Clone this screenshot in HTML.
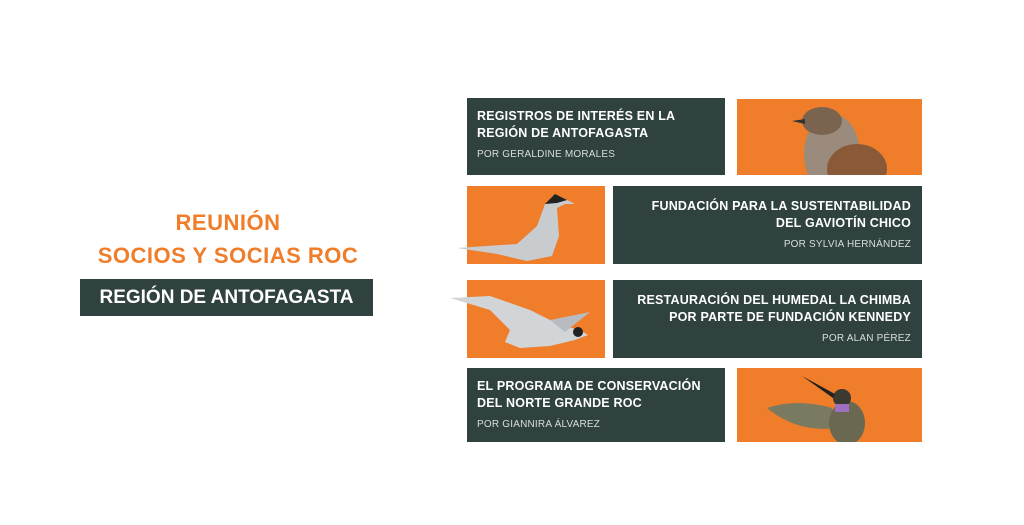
<!DOCTYPE html>
<html><head><meta charset="utf-8"><style>
body{margin:0;width:1024px;height:525px;background:#fff;position:relative;overflow:hidden;font-family:"Liberation Sans",sans-serif}
.b{position:absolute}
.d{background:#2f4240;color:#fff}
.o{background:#ef7d2a}
.t{font-weight:bold;font-size:12.5px;line-height:17px;letter-spacing:.2px}
.s{font-size:10px;color:#d8dedd;margin-top:7px;letter-spacing:.2px}
</style></head><body>
<div class="b" style="left:0;width:456px;top:206px;text-align:center;color:#ef7d2a;font-weight:bold;font-size:22px;line-height:33px;letter-spacing:.5px">REUNIÓN<br>SOCIOS Y SOCIAS ROC</div>
<div class="b d" style="left:80px;top:279px;width:293px;height:37px;font-weight:bold;font-size:19px;line-height:37px;text-align:center">REGIÓN DE ANTOFAGASTA</div>

<div class="b d" style="left:467px;top:98px;width:258px;height:77px;box-sizing:border-box;padding:10px 10px"><div class="t">REGISTROS DE INTERÉS EN LA<br>REGIÓN DE ANTOFAGASTA</div><div class="s">POR GERALDINE MORALES</div></div>
<div class="b o" style="left:737px;top:99px;width:185px;height:76px;overflow:hidden">
<svg width="185" height="76"><ellipse cx="95" cy="55" rx="28" ry="40" fill="#9a8b7c"/><ellipse cx="120" cy="70" rx="30" ry="25" fill="#8a5a38"/><ellipse cx="85" cy="22" rx="20" ry="14" fill="#7a6450"/><path d="M55 22 L68 20 L68 25Z" fill="#333"/></svg></div>

<div class="b o" style="left:467px;top:186px;width:138px;height:78px;overflow:visible">
<svg width="150" height="80" style="position:absolute;left:-10px;top:0"><path d="M0 62 L60 58 L80 40 L88 18 L98 10 L110 14 L118 18 L108 18 L100 22 L102 50 L95 70 L70 75 L40 68Z" fill="#c8cccf"/><path d="M88 18 L98 8 L110 14 L100 17Z" fill="#222"/></svg></div>
<div class="b d" style="left:613px;top:186px;width:309px;height:78px;box-sizing:border-box;padding:12px 11px;text-align:right"><div class="t">FUNDACIÓN PARA LA SUSTENTABILIDAD<br>DEL GAVIOTÍN CHICO</div><div class="s">POR SYLVIA HERNÁNDEZ</div></div>

<div class="b o" style="left:467px;top:280px;width:138px;height:78px"></div>
<svg class="b" style="left:450px;top:290px" width="150" height="65"><path d="M0 8 L40 6 L80 20 L110 35 L130 40 L138 45 L125 50 L100 56 L70 58 L55 52 L60 40 L40 20Z" fill="#d2d5d8"/><path d="M100 30 L140 22 L115 42Z" fill="#b8bcc0"/><circle cx="128" cy="42" r="5" fill="#222"/></svg>
<div class="b d" style="left:613px;top:280px;width:309px;height:78px;box-sizing:border-box;padding:12px 11px;text-align:right"><div class="t">RESTAURACIÓN DEL HUMEDAL LA CHIMBA<br>POR PARTE DE FUNDACIÓN KENNEDY</div><div class="s">POR ALAN PÉREZ</div></div>

<div class="b d" style="left:467px;top:368px;width:258px;height:74px;box-sizing:border-box;padding:10px 10px"><div class="t">EL PROGRAMA DE CONSERVACIÓN<br>DEL NORTE GRANDE ROC</div><div class="s">POR GIANNIRA ÁLVAREZ</div></div>
<div class="b o" style="left:737px;top:368px;width:185px;height:74px;overflow:hidden">
<svg width="185" height="74"><path d="M30 40 Q60 30 95 40 L100 60 Q60 65 30 40Z" fill="#7a7a60"/><ellipse cx="110" cy="55" rx="18" ry="22" fill="#6a6850"/><ellipse cx="105" cy="30" rx="9" ry="9" fill="#3a3a30"/><path d="M96 30 L65 8 L98 26Z" fill="#222"/><rect x="98" y="36" width="14" height="8" fill="#a070c0"/></svg></div>
</body></html>
